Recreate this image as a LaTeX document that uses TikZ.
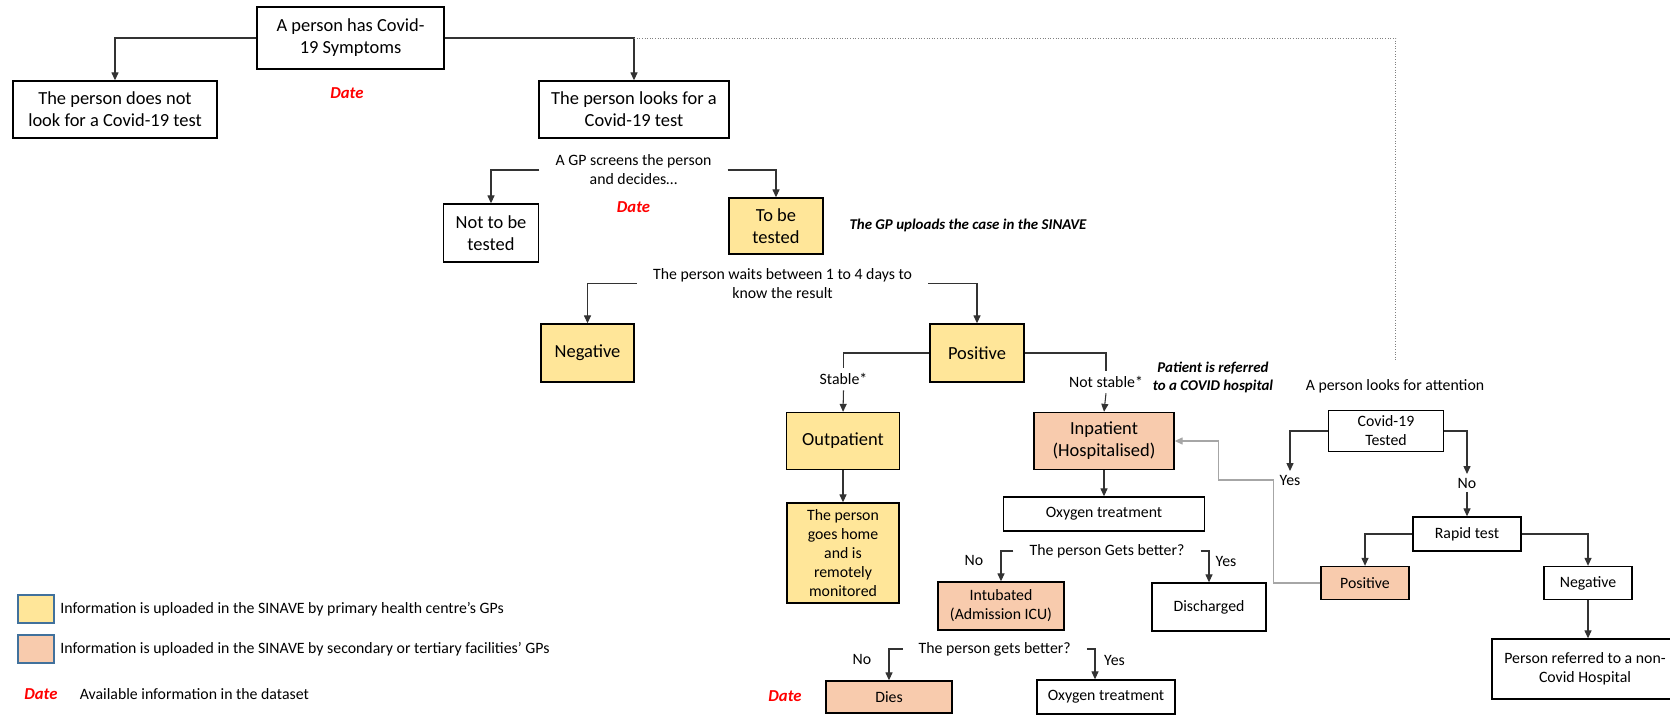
\documentclass[tikz,border=0pt]{standalone}
\usepackage{fontspec}
\setmainfont{Carlito}
\usetikzlibrary{arrows.meta}
\definecolor{sinyellow}{HTML}{FFE699}
\definecolor{sinsalmon}{HTML}{F8CBAD}
\definecolor{datered}{HTML}{FF0000}
\definecolor{keyblue}{HTML}{41719C}
\newcommand{\bigfont}{\fontsize{10.5}{12.6}\selectfont}
\newcommand{\smallfont}{\fontsize{9}{10.8}\selectfont}
\tikzstyle{box}=[rectangle, draw=black, line width=.8pt, fill=white, align=center, inner sep=0pt, font=\bigfont]
\tikzstyle{sbox}=[box, font=\smallfont]
\tikzstyle{primary}=[box, fill=sinyellow]
\tikzstyle{secondary}=[box, fill=sinsalmon]
\tikzstyle{lbl}=[align=center, inner sep=0pt, font=\smallfont]
\tikzstyle{branch}=[lbl, inner xsep=9pt]
\tikzstyle{remark}=[align=center, inner sep=0pt, font=\fontsize{8.5}{10}\selectfont\bfseries\itshape]
\tikzstyle{datum}=[inner sep=0pt, text=datered, font=\fontsize{9.5}{11}\selectfont\bfseries\itshape]
\tikzstyle{edge}=[draw, line width=.6pt, black!80]
\tikzstyle{flow}=[edge, -{Triangle[length=4.5pt,width=4pt]}]
\tikzstyle{back}=[flow, gray!70]
\tikzstyle{dotline}=[draw, line width=.5pt, gray, densely dotted]

\begin{document}
\begin{tikzpicture}[x=0.02cm, y=-0.02cm]
	\useasboundingbox (0,0) rectangle (1670,716);

	% symptoms and first choice
	\node[box, minimum width=3.74cm, minimum height=1.24cm] (sym) at (350.5,38) {A person has Covid-\\19 Symptoms};
	\node[box, minimum width=4.08cm, minimum height=1.14cm] (nolook) at (115,109.5) {The person does not\\look for a Covid-19 test};
	\node[box, minimum width=3.8cm, minimum height=1.14cm] (looks) at (634,109.5) {The person looks for a\\Covid-19 test};
	\node[datum] (date1) at (347,93) {Date};

	\draw[flow] (sym.west) -| (nolook.north);
	\draw[flow] (sym.east) -| (looks.north);
	\coordinate (att) at (1395.7,361);
	\draw[dotline] (looks.north |- sym.east) -| (att);

	% GP screening
	\node[branch] (gp) at (633.5,170) {A GP screens the person\\and decides\dots};
	\node[datum] (date2) at (633.5,207) {Date};
	\node[box, minimum width=1.9cm, minimum height=1.16cm] (nottested) at (491,233) {Not to be\\tested};
	\node[primary, minimum width=1.88cm, minimum height=1.12cm] (tobe) at (776,226) {To be\\tested};
	\node[remark] (uploads) at (968,225) {The GP uploads the case in the SINAVE};

	\draw[flow] (gp.west) -| (nottested.north);
	\draw[flow] (gp.east) -| (tobe.north);

	% test result
	\node[branch] (waits) at (782.6,283.5) {The person waits between 1 to 4 days to\\know the result};
	\node[primary, minimum width=1.86cm, minimum height=1.16cm] (neg1) at (587.5,353) {Negative};
	\node[primary, minimum width=1.88cm, minimum height=1.16cm] (pos1) at (977,353) {Positive};

	\draw[flow] (waits.west) -| (neg1.north);
	\draw[flow] (waits.east) -| (pos1.north);

	% stable or not
	\node[lbl, inner ysep=3pt] (stable) at (843.5,379) {Stable*};
	\node[lbl, inner ysep=3pt] (notstable) at (1106,382) {Not stable*};
	\node[remark] (referred) at (1213,377.5) {Patient is referred\\to a COVID hospital};
	\node[primary, minimum width=2.26cm, minimum height=1.14cm] (outpat) at (843,441) {Outpatient};
	\node[secondary, minimum width=2.8cm, minimum height=1.14cm] (inpat) at (1104,441) {Inpatient\\(Hospitalised)};
	\node[primary, font=\smallfont, minimum width=2.24cm, minimum height=2cm] (home) at (843,553) {The person\\goes home\\and is\\remotely\\monitored};

	\draw[edge] (pos1.west) -| (stable.north);
	\draw[flow] (stable.south) -- (outpat.north);
	\draw[edge] (pos1.east) -| (notstable.north);
	\draw[flow] (notstable.south) -- (inpat.north);
	\draw[flow] (outpat.south) -- (home.north);

	% hospital course
	\node[sbox, minimum width=4.02cm, minimum height=.68cm] (oxy1) at (1104,514) {Oxygen treatment};
	\node[branch] (better1) at (1107,551) {The person Gets better?};
	\node[lbl] (no2) at (974,560) {No};
	\node[lbl] (yes2) at (1226,561) {Yes};
	\node[secondary, font=\smallfont, minimum width=2.52cm, minimum height=.96cm] (intub) at (1001,606) {Intubated\\(Admission ICU)};
	\node[sbox, minimum width=2.28cm, minimum height=.96cm] (disch) at (1209,607) {Discharged};

	\draw[flow] (inpat.south) -- (oxy1.north);
	\draw[flow] (better1.west) -| (intub.north);
	\draw[flow] (better1.east) -| (disch.north);

	\node[branch] (better2) at (994.7,649) {The person gets better?};
	\node[lbl] (no3) at (862,659) {No};
	\node[lbl] (yes3) at (1114.5,660) {Yes};
	\node[datum] (date3) at (785,696) {Date};
	\node[secondary, font=\smallfont, minimum width=2.52cm, minimum height=.64cm] (dies) at (889,697) {Dies};
	\node[sbox, minimum width=2.76cm, minimum height=.68cm] (oxy2) at (1106,697) {Oxygen treatment};

	\draw[flow] (better2.west) -| (dies.north);
	\draw[flow] (better2.east) -| ([xshift=-.22cm]oxy2.north);

	% attention without referral
	\node[lbl] (attention) at (1395,386) {A person looks for attention};
	\node[sbox, minimum width=2.3cm, minimum height=.82cm] (ct) at (1386,431) {Covid-19\\Tested};
	\node[lbl, inner ysep=2pt] (yes1) at (1290,480) {Yes};
	\node[lbl, inner ysep=2pt] (no1) at (1467,483) {No};
	\node[sbox, minimum width=2.16cm, minimum height=.68cm] (rapid) at (1467,534) {Rapid test};
	\node[secondary, font=\smallfont, minimum width=1.76cm, minimum height=.66cm] (pos2) at (1365,583) {Positive};
	\node[sbox, minimum width=1.76cm, minimum height=.66cm] (neg2) at (1588,583) {Negative};
	\node[sbox, minimum width=3.72cm, minimum height=1.2cm] (nonc) at (1585,669) {Person referred to a non-\\Covid Hospital};

	\draw[flow] (ct.west) -| (yes1.north);
	\draw[flow] (ct.east) -| (no1.north);
	\draw[flow] (no1.south) -- (rapid.north);
	\draw[flow] (rapid.west) -| (pos2.north);
	\draw[flow] (rapid.east) -| (neg2.north);
	\draw[flow] (neg2.south) -- (neg2.south |- nonc.north);
	\draw[back] (pos2.west) -- ++(-47,0) |- ++(-55,-103) |- (inpat.east);

	% legend
	\node[primary, draw=keyblue, minimum width=.72cm, minimum height=.56cm] (keyprim) at (36,609) {};
	\node[lbl, anchor=west] (keyprimtxt) at (60,609) {Information is uploaded in the SINAVE by primary health centre’s GPs};
	\node[secondary, draw=keyblue, minimum width=.72cm, minimum height=.56cm] (keysec) at (36,649) {};
	\node[lbl, anchor=west] (keysectxt) at (60,649) {Information is uploaded in the SINAVE by secondary or tertiary facilities’ GPs};
	\node[datum] (keydate) at (41,694) {Date};
	\node[lbl, anchor=west] (keydatetxt) at (79.5,694) {Available information in the dataset};
\end{tikzpicture}
\end{document}
